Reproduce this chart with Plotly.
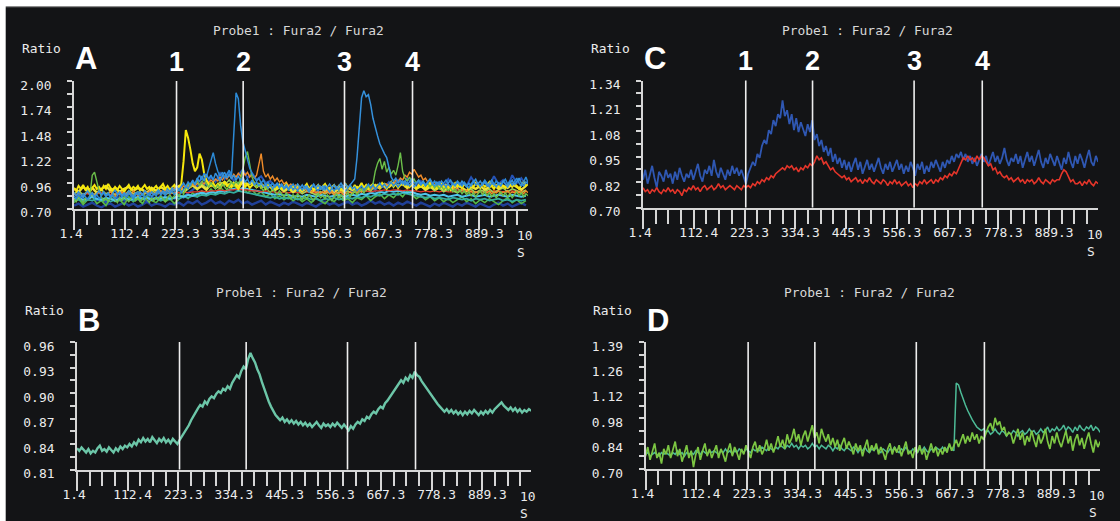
import plotly.graph_objects as go

# ---------------------------------------------------------------- data
T_START = 1.4          # first acquisition time (s)
STEP_FINE = 5.0        # sampling interval of the densely sampled cells (s)
STEP_COARSE = 10.0     # sampling interval of the background cells in A (s)

EVENTS = [226.0, 372.0, 594.0, 743.0]          # stimulus markers 1-4 (s)
EVENT_LABELS = ["1", "2", "3", "4"]

X_TICKS = [1.4, 112.4, 223.3, 334.3, 445.3, 556.3, 667.3, 778.3, 889.3]
X_TICK_LABELS = ["1.4", "112.4", "223.3", "334.3", "445.3", "556.3", "667.3", "778.3", "889.3"]
X_LAST_LABEL = "10"     # 1000.3 label, cut at the plot edge
X_UNIT = "S"
X_MINOR_STEP = 27.74

A_YTICKS = [0.70, 0.96, 1.22, 1.48, 1.74, 2.00]
A_YLABELS = ["0.70", "0.96", "1.22", "1.48", "1.74", "2.00"]
B_YTICKS = [0.81, 0.84, 0.87, 0.90, 0.93, 0.96]
B_YLABELS = ["0.81", "0.84", "0.87", "0.90", "0.93", "0.96"]
C_YTICKS = [0.70, 0.828, 0.956, 1.084, 1.212, 1.34]
C_YLABELS = ["0.70", "0.82", "0.95", "1.08", "1.21", "1.34"]
D_YTICKS = [0.70, 0.839, 0.978, 1.117, 1.256, 1.395]
D_YLABELS = ["0.70", "0.84", "0.98", "1.12", "1.26", "1.39"]

# Panel A, background cells (10 s sampling)
a_navy = [0.73,0.75,0.72,0.74,0.76,0.73,0.71,0.74,0.75,0.72,
          0.74,0.76,0.73,0.75,0.72,0.74,0.77,0.73,0.75,0.74,
          0.72,0.75,0.74,0.76,0.73,0.77,0.75,0.78,0.74,0.76,
          0.79,0.75,0.77,0.74,0.78,0.76,0.79,0.75,0.77,0.74,
          0.76,0.78,0.74,0.77,0.75,0.73,0.76,0.74,0.77,0.75,
          0.73,0.76,0.74,0.72,0.75,0.77,0.74,0.76,0.73,0.75,
          0.77,0.74,0.76,0.73,0.75,0.78,0.75,0.77,0.74,0.76,
          0.73,0.76,0.74,0.77,0.75,0.73,0.76,0.74,0.72,0.75,
          0.73,0.76,0.74,0.72,0.75,0.73,0.76,0.74,0.72,0.75,
          0.73,0.71,0.74,0.76,0.73,0.75,0.72,0.74,0.76,0.73]
a_darkblue = [0.78,0.81,0.77,0.80,0.83,0.78,0.80,0.76,0.81,0.79,
              0.82,0.78,0.80,0.84,0.79,0.81,0.77,0.82,0.80,0.83,
              0.79,0.82,0.80,0.84,0.81,0.86,0.89,0.93,0.97,0.94,
              1.02,0.97,1.06,1.00,1.08,0.98,1.04,1.10,1.01,1.06,
              0.99,1.03,0.96,0.98,0.93,0.95,0.90,0.93,0.88,0.92,
              0.87,0.91,0.89,0.86,0.92,0.88,0.90,0.85,0.91,0.88,
              0.92,0.87,0.90,0.94,0.89,0.93,0.88,0.95,0.91,0.97,
              0.93,0.99,0.94,1.01,0.95,0.92,0.98,0.93,0.96,0.91,
              0.97,0.92,1.00,0.94,0.90,0.96,0.93,1.02,0.95,0.91,
              0.98,0.93,1.03,0.95,0.99,0.92,1.04,0.96,1.01,0.94]
a_green2 = [0.76,0.80,0.74,0.79,0.82,0.75,0.78,0.73,0.81,0.77,
            0.79,0.74,0.82,0.77,0.80,0.75,0.83,0.78,0.76,0.81,
            0.77,0.80,0.75,0.79,0.84,0.80,0.86,0.82,0.88,0.84,
            0.90,0.85,0.92,0.87,0.89,0.94,0.88,0.91,0.86,0.89,
            0.84,0.87,0.82,0.85,0.80,0.83,0.79,0.82,0.78,0.81,
            0.77,0.80,0.76,0.81,0.78,0.75,0.80,0.77,0.82,0.78,
            0.80,0.76,0.81,0.79,0.83,0.78,0.82,0.85,0.80,0.84,
            0.81,0.86,0.82,0.88,0.84,0.80,0.83,0.79,0.82,0.78,
            0.81,0.77,0.80,0.76,0.79,0.82,0.77,0.80,0.75,0.79,
            0.76,0.80,0.77,0.74,0.78,0.81,0.76,0.79,0.75,0.78]
a_teal = [0.78,0.79,0.77,0.79,0.78,0.80,0.78,0.79,0.77,0.79,
          0.78,0.80,0.79,0.78,0.80,0.79,0.81,0.79,0.80,0.78,
          0.80,0.79,0.81,0.80,0.82,0.81,0.83,0.82,0.84,0.83,
          0.85,0.84,0.86,0.85,0.87,0.86,0.88,0.87,0.86,0.85,
          0.84,0.83,0.82,0.81,0.82,0.80,0.81,0.80,0.81,0.79,
          0.80,0.81,0.79,0.80,0.78,0.80,0.79,0.81,0.79,0.80,
          0.81,0.80,0.82,0.81,0.83,0.82,0.84,0.83,0.85,0.84,
          0.85,0.84,0.86,0.85,0.84,0.83,0.82,0.81,0.82,0.80,
          0.81,0.80,0.79,0.81,0.80,0.79,0.80,0.78,0.80,0.79,
          0.80,0.78,0.79,0.80,0.78,0.79,0.77,0.79,0.78,0.79]
a_cyan = [0.80,0.81,0.79,0.80,0.82,0.80,0.79,0.81,0.80,0.78,
          0.80,0.81,0.79,0.80,0.82,0.80,0.81,0.79,0.81,0.80,
          0.82,0.80,0.81,0.83,0.82,0.84,0.83,0.85,0.86,0.85,
          0.87,0.86,0.88,0.87,0.89,0.90,0.89,0.91,0.90,0.89,
          0.88,0.87,0.86,0.85,0.84,0.85,0.83,0.84,0.82,0.83,
          0.82,0.84,0.83,0.82,0.84,0.83,0.82,0.83,0.84,0.82,
          0.83,0.84,0.83,0.85,0.84,0.86,0.85,0.87,0.86,0.88,
          0.87,0.88,0.87,0.86,0.87,0.85,0.84,0.85,0.83,0.84,
          0.83,0.84,0.82,0.83,0.84,0.82,0.83,0.84,0.82,0.83,
          0.84,0.82,0.83,0.84,0.83,0.82,0.84,0.83,0.82,0.83]
a_red = [0.85,0.84,0.85,0.85,0.84,0.85,0.86,0.85,0.84,0.85,
         0.85,0.86,0.85,0.85,0.86,0.85,0.86,0.86,0.85,0.86,
         0.86,0.85,0.86,0.86,0.87,0.86,0.87,0.87,0.88,0.87,
         0.88,0.88,0.89,0.88,0.89,0.89,0.90,0.89,0.89,0.88,
         0.88,0.87,0.88,0.87,0.87,0.86,0.87,0.86,0.87,0.86,
         0.86,0.87,0.86,0.86,0.87,0.86,0.86,0.87,0.86,0.87,
         0.87,0.86,0.87,0.87,0.88,0.87,0.88,0.88,0.89,0.88,
         0.89,0.89,0.88,0.89,0.88,0.88,0.87,0.88,0.87,0.88,
         0.87,0.88,0.87,0.87,0.88,0.87,0.88,0.87,0.87,0.88,
         0.88,0.87,0.88,0.88,0.87,0.88,0.88,0.87,0.88,0.88]
a_lightgreen = [0.85,0.88,0.84,0.87,0.83,0.86,0.89,0.85,0.87,0.84,
                0.86,0.83,0.88,0.85,0.87,0.84,0.86,0.89,0.85,0.88,
                0.84,0.87,0.85,0.89,0.86,0.90,0.93,0.89,0.95,0.91,
                0.96,0.92,0.97,0.94,0.99,0.93,0.96,1.00,0.94,0.97,
                0.92,0.95,0.90,0.92,0.88,0.91,0.87,0.90,0.86,0.89,
                0.85,0.88,0.86,0.84,0.87,0.85,0.88,0.84,0.87,0.86,
                0.88,0.85,0.89,0.87,0.91,0.88,0.93,0.90,0.95,0.92,
                0.97,0.93,0.96,0.92,0.95,0.91,0.93,0.89,0.92,0.88,
                0.91,0.87,0.90,0.88,0.86,0.89,0.87,0.90,0.86,0.89,
                0.87,0.90,0.86,0.89,0.91,0.87,0.90,0.88,0.86,0.89]
a_yellow2 = [0.90,0.87,0.92,0.88,0.91,0.86,0.90,0.93,0.88,0.91,
             0.87,0.90,0.92,0.88,0.91,0.89,0.86,0.91,0.88,0.92,
             0.89,0.86,0.90,0.93,0.88,0.91,0.94,0.90,0.93,0.89,
             0.95,0.91,0.94,0.97,0.92,0.96,0.93,0.98,0.94,0.96,
             0.92,0.95,0.91,0.93,0.89,0.92,0.88,0.91,0.87,0.90,
             0.88,0.91,0.87,0.90,0.92,0.88,0.91,0.87,0.90,0.88,
             0.91,0.89,0.92,0.88,0.93,0.90,0.94,0.91,0.95,0.92,
             0.96,0.93,0.95,0.91,0.94,0.90,0.93,0.89,0.92,0.90,
             0.93,0.89,0.92,0.90,0.94,0.91,0.88,0.92,0.90,0.93,
             0.89,0.92,0.94,0.90,0.93,0.91,0.95,0.92,0.89,0.93]

# Panel A, responding cells (5 s sampling)
a_yellow1 = [0.91,0.88,0.93,0.90,0.94,0.89,0.92,0.87,0.91,0.94,
             0.90,0.92,0.88,0.93,0.90,0.95,0.91,0.88,0.92,0.89,
             0.93,0.90,0.87,0.91,0.94,0.89,0.92,0.90,0.93,0.88,
             0.91,0.94,0.90,0.92,0.88,0.91,0.93,0.89,0.92,0.95,
             0.90,0.93,0.89,0.92,0.94,0.90,0.92,0.95,1.18,1.50,
             1.42,1.30,1.16,1.08,1.12,1.26,1.20,1.06,0.99,0.95,
             0.93,0.96,0.92,0.95,0.91,0.94,0.97,0.93,0.95,0.92,
             0.96,0.93,0.90,0.94,0.97,0.92,0.95,0.91,0.94,0.96,
             0.92,0.95,0.91,0.93,0.90,0.94,0.92,0.89,0.93,0.91,
             0.94,0.90,0.92,0.95,0.91,0.89,0.93,0.90,0.94,0.91,
             0.88,0.92,0.95,0.90,0.93,0.89,0.91,0.94,0.90,0.92,
             0.95,0.91,0.88,0.92,0.94,0.90,0.93,0.89,0.92,0.95,
             0.91,0.93,0.89,0.94,0.90,0.92,0.96,0.91,0.94,0.90,
             0.93,0.95,0.91,0.94,0.92,0.96,0.93,0.90,0.94,0.97,
             0.92,0.95,0.91,0.94,0.97,0.93,0.95,0.92,0.96,0.93,
             0.90,0.94,0.92,0.95,0.91,0.93,0.96,0.92,0.94,0.90,
             0.93,0.95,0.91,0.94,0.92,0.89,0.93,0.96,0.92,0.94,
             0.91,0.95,0.93,0.90,0.94,0.92,0.96,0.93,0.91,0.95,
             0.92,0.94,0.97,0.93,0.90,0.94,0.92,0.95,0.93,0.91,
             0.94,0.96,0.92,0.95,0.93,0.90,0.94,0.97,0.93,0.95]
a_orange = [0.85,0.83,0.86,0.84,0.82,0.85,0.87,0.84,0.86,0.83,
            0.85,0.88,0.84,0.86,0.83,0.85,0.87,0.84,0.82,0.86,
            0.84,0.87,0.85,0.83,0.86,0.84,0.88,0.85,0.83,0.86,
            0.84,0.87,0.85,0.88,0.86,0.84,0.87,0.85,0.88,0.86,
            0.89,0.87,0.90,0.88,0.91,0.89,0.92,0.90,0.93,0.91,
            0.94,0.92,0.95,0.93,0.96,0.94,0.97,0.95,0.98,0.96,
            0.99,0.97,1.00,0.98,1.02,0.99,1.03,1.00,1.04,1.01,
            1.05,1.02,1.06,1.03,1.08,1.04,1.07,1.02,1.05,1.01,
            1.04,1.14,1.26,1.08,1.02,1.05,1.00,1.03,0.98,1.01,
            0.97,0.99,0.95,0.97,0.93,0.95,0.92,0.94,0.90,0.92,
            0.89,0.91,0.88,0.90,0.87,0.89,0.86,0.88,0.85,0.87,
            0.86,0.88,0.85,0.87,0.84,0.86,0.85,0.87,0.84,0.86,
            0.85,0.87,0.86,0.88,0.86,0.89,0.87,0.90,0.88,0.91,
            0.89,0.92,0.90,0.93,0.91,0.94,0.92,0.95,0.93,0.97,
            0.95,0.99,0.97,1.01,0.99,1.04,1.02,1.07,1.05,1.10,
            1.06,1.02,1.04,0.99,1.01,0.97,0.99,0.95,0.97,0.93,
            0.95,0.92,0.94,0.91,0.93,0.90,0.92,0.89,0.91,0.88,
            0.90,0.87,0.89,0.86,0.88,0.85,0.87,0.86,0.88,0.85,
            0.87,0.86,0.88,0.85,0.87,0.86,0.88,0.85,0.87,0.86,
            0.88,0.85,0.87,0.86,0.88,0.86,0.87,0.85,0.88,0.86]
a_green1 = [0.80,0.77,0.82,0.79,0.76,0.81,0.78,0.84,1.04,1.07,
            0.97,0.88,0.82,0.78,0.81,0.77,0.80,0.83,0.79,0.76,
            0.81,0.78,0.82,0.79,0.77,0.80,0.83,0.78,0.81,0.77,
            0.80,0.83,0.79,0.76,0.81,0.78,0.82,0.79,0.83,0.80,
            0.77,0.81,0.84,0.80,0.83,0.86,0.82,0.88,0.85,0.91,
            0.96,0.92,0.98,0.94,0.99,0.93,0.97,1.00,0.95,0.92,
            0.96,0.93,0.90,0.94,0.91,0.95,0.92,0.89,0.93,0.97,
            0.94,0.98,0.95,1.00,1.10,1.22,1.28,1.15,1.02,0.96,
            0.92,0.95,0.91,0.88,0.92,0.89,0.86,0.90,0.87,0.84,
            0.88,0.85,0.82,0.86,0.83,0.80,0.84,0.81,0.85,0.82,
            0.79,0.83,0.80,0.84,0.81,0.78,0.82,0.85,0.81,0.83,
            0.80,0.84,0.81,0.78,0.82,0.85,0.81,0.84,0.80,0.83,
            0.86,0.82,0.85,0.88,0.84,0.87,0.90,0.86,0.89,0.93,
            0.90,0.95,1.08,1.16,1.21,1.10,1.18,1.07,1.12,1.05,
            1.09,1.04,1.14,1.27,1.08,1.01,0.98,1.02,0.97,1.00,
            0.96,0.99,0.94,0.97,0.93,0.96,0.92,0.95,0.91,0.94,
            0.90,0.93,0.89,0.92,0.88,0.91,0.87,0.90,0.86,0.89,
            0.85,0.88,0.84,0.87,0.83,0.86,0.82,0.85,0.88,0.84,
            0.87,0.83,0.86,0.82,0.85,0.81,0.84,0.87,0.83,0.86,
            0.82,0.85,0.81,0.84,0.87,0.83,0.86,0.82,0.85,0.83]
a_blue1 = [0.83,0.80,0.84,0.81,0.85,0.82,0.79,0.83,0.86,0.81,
           0.84,0.80,0.83,0.86,0.82,0.85,0.81,0.84,0.80,0.83,
           0.86,0.82,0.84,0.81,0.85,0.83,0.80,0.84,0.87,0.82,
           0.85,0.81,0.84,0.86,0.82,0.85,0.83,0.87,0.84,0.86,
           0.83,0.87,0.85,0.88,0.84,0.87,0.90,0.86,0.89,0.93,
           0.90,0.95,0.98,0.94,1.00,1.04,0.99,1.06,1.02,1.10,
           1.18,1.27,1.16,1.08,1.03,1.07,1.01,1.05,1.09,1.03,
           1.52,1.88,1.82,1.55,1.38,1.29,1.19,1.11,1.06,1.02,
           0.98,1.01,0.96,0.99,0.94,0.97,0.93,0.96,0.92,0.95,
           0.91,0.94,0.90,0.93,0.89,0.92,0.95,0.91,0.88,0.92,
           0.89,0.93,0.90,0.87,0.91,0.94,0.90,0.88,0.92,0.89,
           0.93,0.90,0.87,0.91,0.88,0.92,0.89,0.93,0.90,0.88,
           0.91,0.94,0.90,0.92,0.88,0.91,0.93,0.89,0.92,0.95,
           0.91,0.94,0.90,0.93,0.96,0.92,0.95,0.91,0.94,0.97,
           0.93,0.96,0.92,0.95,0.98,0.94,0.97,0.93,0.96,0.92,
           0.95,0.98,0.94,0.97,0.93,0.96,1.00,0.95,0.98,0.94,
           0.97,0.93,0.96,0.99,0.95,0.92,0.96,0.94,0.98,0.95,
           0.93,0.97,0.94,0.91,0.95,0.98,0.94,0.96,0.92,0.95,
           0.99,0.95,0.92,0.96,0.94,0.98,0.95,0.93,0.97,1.00,
           0.95,0.98,0.94,0.97,1.01,0.96,0.93,0.97,1.02,0.96]
a_blue2 = [0.86,0.83,0.87,0.84,0.81,0.85,0.88,0.84,0.86,0.82,
           0.85,0.88,0.84,0.87,0.83,0.86,0.82,0.85,0.89,0.84,
           0.87,0.83,0.86,0.84,0.88,0.85,0.82,0.86,0.84,0.87,
           0.84,0.88,0.85,0.83,0.87,0.84,0.86,0.89,0.85,0.88,
           0.86,0.90,0.87,0.91,0.88,0.92,0.89,0.93,0.96,0.92,
           0.97,0.94,0.99,0.95,1.01,0.97,1.03,0.98,1.05,1.00,
           1.04,0.99,1.06,1.02,0.98,1.03,1.07,1.01,1.05,1.00,
           1.04,0.99,1.03,0.98,1.02,0.97,1.00,0.95,0.99,0.94,
           0.97,0.93,0.96,0.92,0.95,0.91,0.94,0.90,0.93,0.96,
           0.92,0.95,0.91,0.94,0.90,0.93,0.89,0.92,0.95,0.91,
           0.94,0.90,0.93,0.89,0.92,0.95,0.91,0.94,0.90,0.93,
           0.89,0.92,0.95,0.91,0.94,0.90,0.93,0.96,0.92,0.95,
           0.91,0.94,0.97,1.00,1.22,1.55,1.83,1.90,1.84,1.86,
           1.76,1.62,1.52,1.44,1.36,1.30,1.26,1.22,1.12,1.02,
           0.98,1.01,0.96,0.99,0.95,0.98,0.94,0.97,1.00,0.96,
           0.96,0.99,0.95,0.98,0.94,0.97,1.00,0.96,0.93,0.97,
           0.94,0.98,0.95,0.92,0.96,0.99,0.95,0.93,0.97,0.94,
           0.98,0.95,0.92,0.96,0.93,0.97,1.00,0.95,0.98,0.94,
           0.97,0.93,0.96,0.99,0.95,0.92,0.96,0.94,0.98,0.95,
           0.92,0.96,0.99,0.94,0.97,1.01,0.96,0.93,0.97,0.95]

# Panel B, mean trace (5 s sampling)
b_mean = [0.835,0.832,0.836,0.833,0.830,0.834,0.829,0.832,0.830,0.835,
          0.838,0.832,0.834,0.831,0.836,0.833,0.830,0.835,0.832,0.837,
          0.834,0.838,0.836,0.840,0.837,0.842,0.839,0.845,0.842,0.847,
          0.843,0.846,0.842,0.848,0.844,0.841,0.846,0.843,0.847,0.842,
          0.845,0.841,0.846,0.843,0.840,0.845,0.849,0.853,0.858,0.862,
          0.868,0.873,0.877,0.882,0.886,0.884,0.890,0.887,0.893,0.896,
          0.894,0.899,0.902,0.900,0.905,0.903,0.908,0.905,0.912,0.916,
          0.921,0.918,0.926,0.931,0.928,0.940,0.947,0.941,0.936,0.928,
          0.922,0.913,0.905,0.897,0.890,0.884,0.878,0.874,0.871,0.868,
          0.871,0.866,0.869,0.865,0.868,0.864,0.867,0.863,0.866,0.862,
          0.865,0.861,0.864,0.860,0.863,0.866,0.862,0.859,0.864,0.861,
          0.863,0.860,0.864,0.861,0.865,0.862,0.859,0.863,0.860,0.856,
          0.861,0.858,0.863,0.866,0.864,0.869,0.867,0.872,0.870,0.875,
          0.878,0.876,0.881,0.884,0.882,0.888,0.891,0.895,0.898,0.902,
          0.906,0.910,0.915,0.912,0.918,0.915,0.921,0.918,0.925,0.921,
          0.919,0.914,0.910,0.906,0.902,0.898,0.894,0.890,0.887,0.884,
          0.881,0.878,0.881,0.877,0.880,0.876,0.879,0.875,0.878,0.874,
          0.878,0.875,0.879,0.876,0.880,0.877,0.874,0.878,0.875,0.879,
          0.876,0.880,0.877,0.881,0.884,0.887,0.889,0.885,0.883,0.880,
          0.883,0.879,0.882,0.878,0.881,0.877,0.880,0.878,0.881,0.879]

# Panel C, two cells (5 s sampling)
c_blue = [0.84,0.89,0.82,0.87,0.91,0.85,0.80,0.88,0.86,0.83,
          0.89,0.85,0.87,0.82,0.88,0.84,0.90,0.86,0.83,0.87,
          0.85,0.89,0.84,0.88,0.92,0.86,0.83,0.89,0.87,0.91,
          0.86,0.94,0.88,0.85,0.90,0.87,0.84,0.89,0.86,0.91,
          0.87,0.90,0.86,0.89,0.85,0.82,0.87,0.90,0.93,0.91,
          0.97,0.95,1.01,1.04,1.02,1.09,1.07,1.14,1.11,1.17,
          1.15,1.24,1.16,1.19,1.12,1.17,1.09,1.15,1.08,1.13,
          1.10,1.06,1.12,1.08,1.14,1.04,1.07,1.01,1.04,0.98,
          1.01,0.96,1.00,0.93,0.97,0.92,0.95,0.90,0.94,0.89,
          0.93,0.88,0.92,0.95,0.89,0.93,0.87,0.91,0.94,0.89,
          0.92,0.88,0.91,0.95,0.90,0.87,0.92,0.89,0.93,0.88,
          0.91,0.94,0.89,0.92,0.87,0.91,0.88,0.93,0.90,0.86,
          0.92,0.89,0.93,0.87,0.91,0.88,0.93,0.90,0.94,0.91,
          0.88,0.93,0.90,0.94,0.92,0.96,0.93,0.97,0.95,0.98,
          0.94,0.97,0.93,0.96,0.92,0.95,0.91,0.94,0.97,0.93,
          0.96,0.91,0.95,0.98,0.93,0.96,0.92,0.95,1.00,0.94,
          0.91,0.95,0.93,0.97,0.92,0.96,0.90,0.94,0.98,0.93,
          0.96,0.91,0.95,0.99,0.93,0.90,0.95,0.92,0.97,0.94,
          0.91,0.96,0.93,0.89,0.95,0.92,0.98,0.93,0.90,0.96,
          0.92,0.97,0.94,0.90,0.95,0.99,0.93,0.91,0.96,0.93]
c_red = [0.80,0.78,0.79,0.77,0.79,0.78,0.80,0.78,0.77,0.79,
         0.78,0.80,0.78,0.79,0.77,0.79,0.78,0.76,0.79,0.78,
         0.80,0.79,0.81,0.79,0.80,0.78,0.80,0.81,0.79,0.80,
         0.81,0.79,0.80,0.82,0.80,0.81,0.79,0.80,0.81,0.80,
         0.79,0.81,0.80,0.79,0.81,0.80,0.81,0.80,0.82,0.81,
         0.83,0.82,0.84,0.83,0.85,0.84,0.86,0.85,0.87,0.88,
         0.89,0.90,0.89,0.91,0.90,0.91,0.89,0.90,0.88,0.90,
         0.89,0.91,0.90,0.92,0.91,0.93,0.96,0.94,0.95,0.92,
         0.93,0.91,0.89,0.90,0.88,0.87,0.86,0.85,0.86,0.84,
         0.85,0.83,0.84,0.85,0.83,0.84,0.82,0.84,0.83,0.85,
         0.83,0.82,0.84,0.83,0.82,0.84,0.83,0.81,0.83,0.82,
         0.84,0.82,0.83,0.81,0.82,0.83,0.81,0.82,0.80,0.82,
         0.81,0.83,0.82,0.84,0.82,0.83,0.84,0.82,0.84,0.83,
         0.85,0.84,0.86,0.85,0.87,0.86,0.88,0.87,0.90,0.93,
         0.95,0.94,0.96,0.94,0.95,0.93,0.96,0.94,0.96,0.95,
         0.93,0.91,0.92,0.89,0.90,0.87,0.88,0.86,0.85,0.86,
         0.84,0.85,0.83,0.84,0.85,0.83,0.84,0.82,0.84,0.83,
         0.84,0.82,0.83,0.85,0.83,0.82,0.84,0.83,0.82,0.84,
         0.83,0.84,0.84,0.87,0.89,0.88,0.85,0.83,0.84,0.82,
         0.82,0.83,0.81,0.83,0.82,0.84,0.82,0.81,0.83,0.82]

# Panel D, two cells (5 s sampling)
d_teal = [0.78,0.79,0.77,0.78,0.79,0.78,0.77,0.79,0.78,0.79,
          0.78,0.77,0.79,0.78,0.80,0.78,0.79,0.77,0.79,0.78,
          0.79,0.78,0.80,0.79,0.78,0.80,0.79,0.78,0.80,0.79,
          0.80,0.79,0.78,0.80,0.79,0.81,0.79,0.80,0.78,0.80,
          0.79,0.81,0.80,0.79,0.81,0.80,0.79,0.81,0.80,0.81,
          0.80,0.82,0.81,0.80,0.82,0.81,0.80,0.82,0.81,0.83,
          0.82,0.81,0.83,0.82,0.84,0.82,0.83,0.81,0.83,0.82,
          0.83,0.81,0.82,0.84,0.82,0.83,0.81,0.83,0.82,0.81,
          0.83,0.82,0.80,0.82,0.81,0.83,0.81,0.80,0.82,0.81,
          0.80,0.82,0.81,0.79,0.81,0.80,0.82,0.80,0.79,0.81,
          0.80,0.82,0.80,0.79,0.81,0.80,0.79,0.81,0.80,0.82,
          0.80,0.79,0.81,0.80,0.82,0.80,0.79,0.81,0.80,0.79,
          0.81,0.80,0.82,0.80,0.79,0.81,0.80,0.82,0.81,0.80,
          0.82,0.80,0.81,0.83,0.81,0.80,1.17,1.16,1.12,1.08,
          1.05,1.02,0.99,0.97,0.95,0.93,0.92,0.91,0.92,0.90,
          0.91,0.89,0.90,0.92,0.90,0.89,0.91,0.90,0.88,0.90,
          0.89,0.91,0.90,0.88,0.90,0.91,0.89,0.90,0.92,0.90,
          0.91,0.89,0.90,0.92,0.90,0.91,0.93,0.90,0.92,0.91,
          0.93,0.91,0.92,0.94,0.91,0.93,0.92,0.90,0.93,0.91,
          0.94,0.92,0.91,0.93,0.92,0.94,0.91,0.93,0.92,0.90]
d_green = [0.77,0.82,0.75,0.80,0.84,0.76,0.79,0.73,0.81,0.78,
           0.83,0.76,0.80,0.85,0.77,0.81,0.74,0.79,0.83,0.76,
           0.80,0.71,0.78,0.82,0.75,0.80,0.84,0.77,0.81,0.76,
           0.79,0.83,0.76,0.81,0.78,0.74,0.80,0.84,0.77,0.82,
           0.79,0.75,0.81,0.78,0.83,0.80,0.76,0.82,0.85,0.79,
           0.83,0.78,0.81,0.86,0.80,0.84,0.79,0.83,0.88,0.82,
           0.86,0.81,0.89,0.84,0.87,0.92,0.85,0.89,0.83,0.88,
           0.91,0.85,0.89,0.94,0.87,0.90,0.84,0.92,0.88,0.85,
           0.89,0.83,0.87,0.82,0.86,0.80,0.84,0.87,0.81,0.85,
           0.82,0.78,0.84,0.80,0.83,0.77,0.82,0.86,0.79,0.83,
           0.80,0.84,0.78,0.82,0.79,0.75,0.81,0.84,0.78,0.82,
           0.79,0.83,0.77,0.81,0.85,0.78,0.80,0.76,0.82,0.79,
           0.83,0.78,0.81,0.75,0.80,0.84,0.79,0.82,0.77,0.81,
           0.78,0.82,0.79,0.84,0.80,0.83,0.86,0.82,0.85,0.89,
           0.84,0.88,0.85,0.90,0.86,0.89,0.84,0.88,0.86,0.90,
           0.93,0.95,0.91,0.98,0.94,0.96,0.91,0.93,0.88,0.90,
           0.89,0.84,0.88,0.92,0.86,0.90,0.83,0.88,0.85,0.91,
           0.86,0.82,0.89,0.84,0.87,0.92,0.85,0.81,0.88,0.84,
           0.90,0.85,0.82,0.87,0.91,0.84,0.88,0.80,0.86,0.89,
           0.83,0.87,0.81,0.86,0.90,0.84,0.79,0.86,0.82,0.85]

# ---------------------------------------------------------------- style
W, H = 1120, 521
BG = "#131416"
AXIS = "#d6d6d6"
TEXT = "#ececec"
MONO = "DejaVu Sans Mono"
BOLD = "Liberation Sans"
FS = 12.9
TITLE = "Probe1 : Fura2 / Fura2"


def times(series, step):
    return [round(T_START + step * i, 1) for i in range(len(series))]


def left_aligned(label, width=5):
    # pad with invisible digits so every label occupies the same width
    n = width - len(label)
    if n <= 0:
        return label
    return label + '<span style="color:rgba(0,0,0,0)">%s</span>' % ("0" * n)


panels = [
    dict(letter="A", ax="", box=(74, 81, 528, 208.5), yrange=(0.70, 2.00),
         yt=A_YTICKS, yl=A_YLABELS, yminor=0.13, numbers=True,
         traces=[(a_navy, STEP_COARSE, "#1f3f98", 2.4), (a_darkblue, STEP_COARSE, "#2553b6", 2.0),
                 (a_green2, STEP_COARSE, "#56b847", 1.6), (a_teal, STEP_COARSE, "#35ad9e", 1.8),
                 (a_cyan, STEP_COARSE, "#4fc4ec", 2.0), (a_red, STEP_COARSE, "#e8392b", 1.4),
                 (a_lightgreen, STEP_COARSE, "#9fd159", 1.6), (a_yellow2, STEP_COARSE, "#ece23a", 2.4),
                 (a_orange, STEP_FINE, "#f18c29", 1.4), (a_yellow1, STEP_FINE, "#f6e70c", 2.0),
                 (a_green1, STEP_FINE, "#6cc04a", 1.4), (a_blue1, STEP_FINE, "#2c8ad6", 1.5),
                 (a_blue2, STEP_FINE, "#3591dc", 1.5)]),
    dict(letter="B", ax="2", box=(77, 342, 531, 469.5), yrange=(0.81, 0.96),
         yt=B_YTICKS, yl=B_YLABELS, yminor=0.015, numbers=False,
         traces=[(b_mean, STEP_FINE, "#6cc6a8", 2.4)]),
    dict(letter="C", ax="3", box=(643, 80.5, 1098, 207.5), yrange=(0.70, 1.34),
         yt=C_YTICKS, yl=C_YLABELS, yminor=0.064, numbers=True,
         traces=[(c_blue, STEP_FINE, "#2f57b2", 1.8), (c_red, STEP_FINE, "#e5352a", 1.6)]),
    dict(letter="D", ax="4", box=(645.5, 342, 1100, 469), yrange=(0.70, 1.395),
         yt=D_YTICKS, yl=D_YLABELS, yminor=0.0695, numbers=False,
         traces=[(d_teal, STEP_FINE, "#4dbb97", 1.5), (d_green, STEP_FINE, "#7cc643", 1.7)]),
]

fig = go.Figure()
layout = dict(template="none", width=W, height=H, autosize=False,
              margin=dict(l=0, r=0, t=0, b=0, pad=0),
              paper_bgcolor=BG, plot_bgcolor=BG, showlegend=False)
annotations, shapes = [], []

# white edges of the scanned sheet
shapes += [
    dict(type="rect", xref="paper", yref="paper", x0=0, x1=1, y0=1 - 6 / H, y1=1,
         fillcolor="#ffffff", line_width=0, layer="below"),
    dict(type="rect", xref="paper", yref="paper", x0=0, x1=1, y0=1 - 7.2 / H, y1=1 - 6 / H,
         fillcolor="#8c8c8c", line_width=0, layer="below"),
    dict(type="rect", xref="paper", yref="paper", x0=0, x1=5.7 / W, y0=0, y1=1,
         fillcolor="#ffffff", line_width=0, layer="below"),
]

tick_font = dict(family=MONO, size=FS, color=TEXT)

for p in panels:
    ax = p["ax"]
    x0, y0, x1, y1 = p["box"]
    xname, yname = "xaxis" + ax, "yaxis" + ax
    xref, yref = "x" + ax, "y" + ax

    layout[xname] = dict(
        domain=[x0 / W, x1 / W], range=[1.4, 996], anchor=yref, automargin=False,
        showgrid=False, zeroline=False, fixedrange=True,
        showline=True, linecolor=AXIS, linewidth=2,
        ticks="outside", ticklen=19, tickwidth=2, tickcolor=AXIS,
        tickmode="array", tickvals=X_TICKS, ticktext=[left_aligned(s) for s in X_TICK_LABELS],
        tickfont=tick_font, ticklabelshift=5, ticklabelstandoff=-7,
        minor=dict(tickmode="linear", tick0=1.4, dtick=X_MINOR_STEP, ticks="outside",
                   ticklen=14, tickwidth=2, tickcolor=AXIS),
    )
    layout[yname] = dict(
        domain=[1 - y1 / H, 1 - y0 / H], range=list(p["yrange"]), anchor=xref, automargin=False,
        showgrid=False, zeroline=False, fixedrange=True,
        showline=True, linecolor=AXIS, linewidth=2,
        ticks="outside", ticklen=5, tickwidth=2, tickcolor=AXIS,
        tickmode="array", tickvals=p["yt"], ticktext=p["yl"],
        tickfont=tick_font, ticklabelshift=4, ticklabelstandoff=13,
        minor=dict(tickmode="linear", tick0=p["yrange"][0], dtick=p["yminor"],
                   ticks="outside", ticklen=5, tickwidth=2, tickcolor=AXIS),
    )

    for series, step, color, width in p["traces"]:
        fig.add_trace(go.Scatter(x=times(series, step), y=series, mode="lines",
                                 line=dict(color=color, width=width), hoverinfo="skip",
                                 xaxis=xref, yaxis=yref))

    for ev in EVENTS:
        shapes.append(dict(type="line", xref=xref, yref=yref + " domain", x0=ev, x1=ev,
                           y0=0, y1=1, line=dict(color="#eeeeee", width=1.6), layer="above"))

    dx, dy = xref + " domain", yref + " domain"
    base = dict(xref=dx, yref=dy, showarrow=False, xanchor="center", yanchor="middle")
    annotations += [
        dict(base, x=0.5, y=1, xshift=-3, yshift=50, text=TITLE,
             font=dict(family=MONO, size=FS, color="#d8d8d8")),
        dict(base, x=0, y=1, xshift=-33, yshift=32, text="Ratio", font=tick_font),
        dict(base, x=0, y=1, xshift=12, yshift=22, text="<b>%s</b>" % p["letter"],
             font=dict(family=BOLD, size=31, color="#ffffff")),
        # last time label (cut by the plot edge) with the unit beneath it
        dict(base, x=1, y=0, xshift=-12.5, yshift=-35, xanchor="left", align="left",
             borderpad=0, text="%s<br>%s" % (X_LAST_LABEL, X_UNIT), font=tick_font),
    ]
    if p["numbers"]:
        for ev, lab in zip(EVENTS, EVENT_LABELS):
            annotations.append(dict(xref=xref, yref=dy, x=ev, y=1, yshift=19, showarrow=False,
                                    xanchor="center", yanchor="middle",
                                    text="<b>%s</b>" % lab,
                                    font=dict(family=BOLD, size=27, color="#ffffff")))

layout["annotations"] = annotations
layout["shapes"] = shapes
fig.update_layout(**layout)
fig.write_html("out.html")
